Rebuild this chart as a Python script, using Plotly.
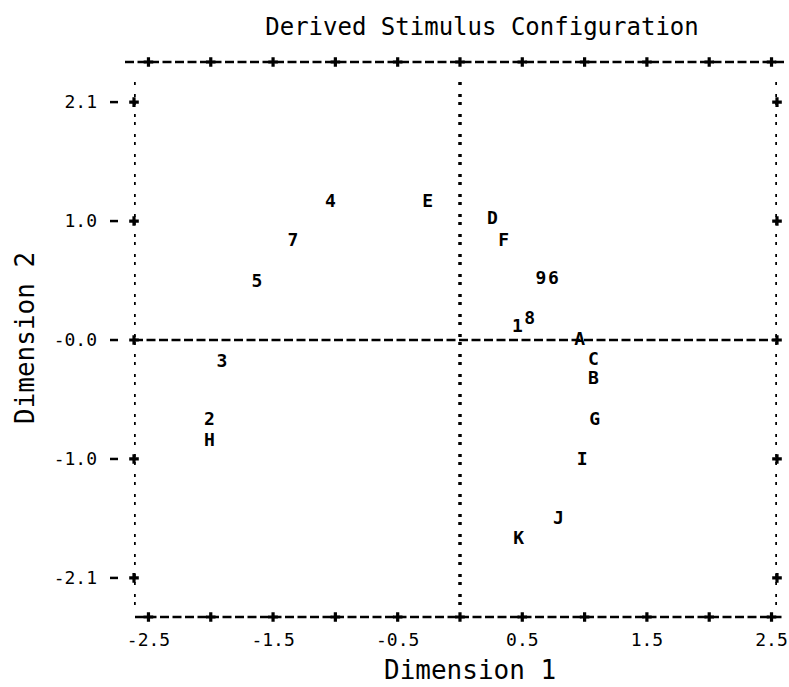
import plotly.graph_objects as go

# Stimulus coordinates on the two derived dimensions
labels = ["4", "7", "5", "E", "D", "F", "9", "6", "1", "8",
          "A", "C", "B", "G", "I", "J", "K", "3", "2", "H"]
dim1 = [-1.04, -1.34, -1.63, -0.26, 0.26, 0.35, 0.65, 0.75, 0.46, 0.56,
        0.96, 1.07, 1.07, 1.08, 0.98, 0.79, 0.47, -1.91, -2.01, -2.01]
dim2 = [1.21, 0.87, 0.51, 1.21, 1.06, 0.87, 0.53, 0.53, 0.11, 0.18,
        0.00, -0.18, -0.35, -0.71, -1.06, -1.58, -1.76, -0.20, -0.71, -0.90]

# Axis ticks
x_tickvals = [-2.5, -1.5, -0.5, 0.5, 1.5, 2.5]
x_ticktext = ["-2.5", "-1.5", "-0.5", "0.5", "1.5", "2.5"]
x_minor = [-2.5, -2.0, -1.5, -1.0, -0.5, 0.0, 0.5, 1.0, 1.5, 2.0, 2.5]
y_tickvals = [2.1, 1.05, 0.0, -1.05, -2.1]
y_ticktext = ["2.1", "1.0", "-0.0", "-1.0", "-2.1"]

X_RANGE = [-2.616, 2.544]
Y_RANGE = [-2.445, 2.454]

W, H = 789, 687
L, R, T, B = 134, 12, 62, 70
PW, PH = W - L - R, H - T - B

MONO = "DejaVu Sans Mono"
DASH = "9px,3.5px"
DOTS = "3px,5px,3px,9px"


def px_x(p):
    return (p - L) / PW


def px_y(p):
    return (H - B - p) / PH


fig = go.Figure()

# Plus marks along the frame
plus_x = x_minor + x_minor + [X_RANGE[0]] * len(y_tickvals) + [X_RANGE[1]] * len(y_tickvals)
plus_y = ([Y_RANGE[0]] * len(x_minor) + [Y_RANGE[1]] * len(x_minor)
          + y_tickvals + y_tickvals)
fig.add_trace(go.Scatter(
    x=plus_x, y=plus_y, mode="markers",
    marker=dict(symbol="cross", size=8, color="black", line=dict(width=0)),
    cliponaxis=False, hoverinfo="skip", showlegend=False,
))

# Stimulus labels
fig.add_trace(go.Scatter(
    x=dim1, y=dim2, mode="text", text=labels,
    textposition="middle center",
    textfont=dict(family=MONO, size=18, color="black", weight="bold"),
    cliponaxis=False, showlegend=False,
))

shapes = []
# Top and bottom borders (dashed)
shapes.append(dict(type="line", xref="paper", yref="paper",
                   x0=px_x(125), x1=px_x(787), y0=1, y1=1,
                   line=dict(color="black", width=2.5, dash=DASH)))
shapes.append(dict(type="line", xref="paper", yref="paper",
                   x0=px_x(135), x1=px_x(785), y0=0, y1=0,
                   line=dict(color="black", width=2.5, dash=DASH)))
# Horizontal reference at zero
shapes.append(dict(type="line", xref="paper", yref="y",
                   x0=0, x1=1, y0=0, y1=0,
                   line=dict(color="black", width=2.5, dash=DASH)))
# Left / right frame and vertical reference at zero (dotted)
for xv in [X_RANGE[0], 0.0, X_RANGE[1]]:
    shapes.append(dict(type="line", xref="x", yref="paper",
                       x0=xv, x1=xv, y0=px_y(605), y1=px_y(78),
                       line=dict(color="black", width=3.5, dash=DOTS)))
# Short tick dashes to the left of the frame
for yv in y_tickvals:
    shapes.append(dict(type="line", xref="paper", yref="y",
                       x0=px_x(110), x1=px_x(118), y0=yv, y1=yv,
                       line=dict(color="black", width=2.5)))

annotations = [
    dict(text="Dimension 1", xref="paper", yref="paper",
         x=px_x(470), y=px_y(670), xanchor="center", yanchor="middle",
         showarrow=False, font=dict(family=MONO, size=26, color="black")),
    dict(text="Dimension 2", xref="paper", yref="paper", textangle=-90,
         x=px_x(25), y=px_y(338), xanchor="center", yanchor="middle",
         showarrow=False, font=dict(family=MONO, size=26, color="black")),
]

fig.update_layout(
    width=W, height=H,
    margin=dict(l=L, r=R, t=T, b=B, autoexpand=False),
    paper_bgcolor="white", plot_bgcolor="white",
    title=dict(text="Derived Stimulus Configuration",
               x=482 / W, y=1 - 27 / H, xref="container", yref="container",
               xanchor="center", yanchor="middle",
               font=dict(family=MONO, size=24, color="black")),
    shapes=shapes, annotations=annotations,
    xaxis=dict(range=X_RANGE, showgrid=False, zeroline=False, showline=False,
               tickvals=x_tickvals, ticktext=x_ticktext, ticks="",
               ticklabelstandoff=10,
               tickfont=dict(family=MONO, size=18, color="black")),
    yaxis=dict(range=Y_RANGE, showgrid=False, zeroline=False, showline=False,
               tickvals=y_tickvals, ticktext=y_ticktext, ticks="",
               ticklabelstandoff=36,
               tickfont=dict(family=MONO, size=18, color="black")),
)

fig.write_html("out.html")
